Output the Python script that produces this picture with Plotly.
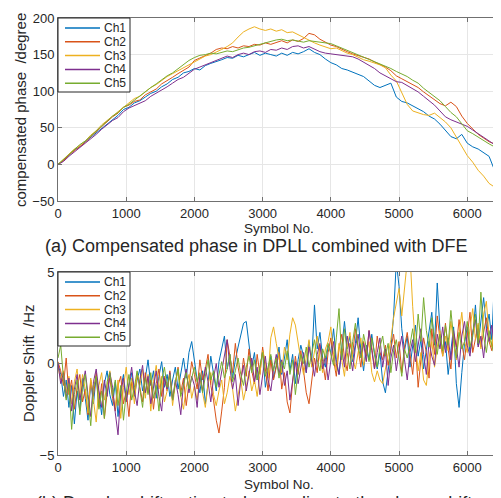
import plotly.graph_objects as go

# the page keeps the browser's 8px body margin, so the figure is drawn 8px smaller
# and every reference position is shifted by that offset
OFF = 8
W, H = 501 - OFF, 498 - OFF
FONT = "Liberation Sans, Arial, sans-serif"

channels = ["Ch1", "Ch2", "Ch3", "Ch4", "Ch5"]
colors = ["#0072BD", "#D95319", "#EDB120", "#7E2F8E", "#77AC30"]

# (a) compensated phase [degree], one value every 80 symbols
phase_x = list(range(0, 6481, 80))
phase_ch1 = [0, 6, 12, 20, 24, 31, 37, 43, 50, 55,
             62, 67, 75, 78, 84, 87, 92, 97, 100, 106,
             110, 116, 119, 125, 127, 131, 129, 135, 138, 140,
             143, 146, 145, 149, 147, 150, 153, 149, 152, 150,
             148, 152, 149, 153, 151, 154, 158, 153, 150, 144,
             139, 136, 131, 129, 126, 122, 120, 114, 108, 105,
             108, 111, 92, 86, 84, 80, 75, 72, 66, 62,
             55, 46, 38, 35, 41, 29, 24, 21, 16, 11,
             -8, -18]
phase_ch2 = [0, 5, 13, 19, 25, 30, 38, 45, 52, 58,
             65, 70, 78, 81, 86, 88, 95, 99, 103, 110,
             114, 119, 124, 129, 133, 142, 145, 149, 152, 157,
             159, 158, 161, 159, 162, 161, 164, 163, 166, 164,
             167, 169, 166, 170, 168, 172, 179, 177, 171, 167,
             163, 161, 157, 154, 151, 149, 146, 144, 140, 137,
             133, 128, 121, 117, 113, 108, 105, 99, 94, 89,
             83, 80, 85, 79, 66, 56, 48, 41, 36, 31,
             28, 24]
phase_ch3 = [0, 7, 13, 21, 26, 32, 40, 46, 54, 60,
             67, 73, 79, 85, 90, 93, 99, 105, 109, 115,
             120, 124, 128, 133, 137, 141, 144, 148, 150, 153,
             157, 161, 166, 174, 181, 185, 188, 185, 183, 185,
             182, 184, 180, 181, 177, 174, 169, 166, 163, 161,
             158, 159, 155, 152, 150, 146, 143, 141, 139, 136,
             132, 122, 114, 98, 82, 73, 70, 68, 67, 70,
             64, 58, 50, 37, 24, 12, 3, -8, -16, -26,
             -31, -35]
phase_ch4 = [0, 4, 11, 17, 23, 28, 35, 41, 48, 54,
             60, 64, 72, 77, 80, 84, 87, 93, 97, 102,
             106, 111, 116, 119, 125, 130, 133, 136, 139, 141,
             144, 148, 146, 150, 152, 150, 154, 155, 153, 157,
             156, 159, 157, 161, 162, 159, 161, 157, 154, 152,
             151, 150, 149, 147, 147, 144, 140, 136, 131, 125,
             121, 116, 113, 112, 108, 104, 99, 93, 87, 81,
             73, 65, 61, 58, 55, 52, 47, 42, 38, 32,
             27, 21]
phase_ch5 = [0, 7, 14, 20, 27, 32, 39, 46, 53, 59,
             66, 71, 78, 82, 88, 94, 99, 105, 110, 116,
             121, 125, 131, 136, 142, 146, 149, 150, 152, 151,
             153, 155, 154, 157, 159, 160, 162, 165, 166, 168,
             170, 171, 169, 170, 168, 167, 169, 168, 167, 166,
             165, 162, 159, 156, 152, 149, 146, 143, 140, 137,
             135, 131, 127, 124, 120, 115, 111, 104, 98, 93,
             87, 79, 71, 65, 56, 46, 42, 37, 32, 28,
             24, 17]

# (b) Doppler shift [Hz], one value every 40 symbols
dop_x = list(range(0, 6481, 40))
dop_ch1 = [0.0, -0.6, -1.8, -0.9, -2.4, -1.2, -3.3, -1.5, -2.6, -0.8,
           -1.9, -3.1, -1.0, -2.2, -0.7, -1.6, -2.8, -1.1, -0.4, -1.7,
           -2.3, -1.0, -2.9, -1.4, -0.6, -2.0, -1.2, -0.5, -1.8, -0.9,
           -0.3, -1.5, -0.8, 0.2, -1.2, -0.4, -1.9, -0.7, 0.1, -1.3,
           -0.6, -1.8, -0.9, -0.2, -1.4, -0.5, 0.3, -0.8, 0.6, 1.2,
           0.2, -0.9, -1.6, -0.4, -2.2, -1.1, 0.4, -0.7, -1.5, 0.1,
           0.8, 1.5, -0.3, 0.5, -0.8, 0.2, 0.9, 1.6, 2.2, 2.3,
           1.1, -0.2, 0.6, -0.9, -0.3, 0.7, -1.3, -0.5, 0.4, -0.8,
           -0.1, 0.9, -0.6, 0.3, 1.3, -0.4, 0.5, -1.1, 0.2, 1.0,
           0.4, -0.5, 1.2, 0.1, 3.2, 0.8, 1.7, 0.3, -0.2, 1.0,
           0.6, 1.9, 0.2, -0.6, 0.9, 2.3, 0.8, 1.5, 0.1, 1.1,
           2.5, 0.7, -0.4, 1.0, 0.2, 1.6, 0.5, -0.3, 0.6, -1.0,
           -1.6, -0.5, 0.8, 2.6, 5.6, 4.2, 1.9, 0.7, 1.5, -0.2,
           0.9, 2.1, 0.4, 1.3, -0.3, 0.8, 1.7, 2.8, 1.0, 4.4,
           1.8, 0.5, 1.2, -0.6, 0.7, 2.0, -1.1, -2.4, -0.5, 1.1,
           2.0, 0.6, 1.5, 3.2, 1.0, 2.4, 3.6, 1.9, 2.7, 1.3,
           4.7, 2.6, 1.4]
dop_ch2 = [0.1, -0.4, -1.2, 0.3, -1.7, -0.9, -2.5, -1.3, -0.6, -2.1,
           -1.4, -2.8, -0.9, -1.8, -0.5, -2.4, -1.1, -3.0, -1.6, -0.8,
           -1.9, -2.6, -1.2, -0.7, -2.2, -1.5, -2.9, -1.0, -1.7, -0.6,
           -1.3, -2.1, -0.5, -1.6, -0.9, -2.5, -1.1, -0.3, -1.8, -0.7,
           -1.5, -0.4, -2.0, -1.2, -0.2, -1.6, -0.8, -2.3, -1.0, 0.1,
           -0.6, -1.4, 0.2, -0.9, -0.3, 0.5, -1.2, -2.0, -3.1, -3.8,
           -2.6, -1.3, 1.3, 0.4, -0.5, 1.1, -0.2, -1.0, 0.3, -0.7,
           0.8, -0.4, -1.1, 0.5, -0.6, 0.9, -0.3, -1.5, 0.2, -0.9,
           -0.2, 0.6, -1.4, -0.5, -2.1, -2.7, -1.0, 0.4, -0.6, 0.7,
           -0.4, -1.6, -2.2, -0.8, 0.3, -0.5, 1.0, 0.1, -0.9, 0.6,
           1.4, 0.2, -0.7, 0.8, 1.6, 0.3, -0.4, 1.1, 0.5, 1.9,
           0.7, -0.2, 1.2, 0.4, 1.8, 0.9, -0.3, 1.5, 0.6, 0.2,
           1.0, -0.1, 0.8, 1.6, 0.3, 1.2, -0.5, 0.9, 1.7, 0.4,
           -0.6, 1.1, -1.3, 0.2, 1.4, 0.6, -0.8, 1.9, 0.5, 2.6,
           1.3, 0.4, 2.2, 0.8, -0.3, 1.6, 0.9, 2.4, 1.1, 0.2,
           1.7, 2.8, 0.6, 1.4, 2.1, 0.9, 1.8, 2.5, 1.2, 0.7,
           1.9, 1.1, 1.6]
dop_ch3 = [-0.2, -0.9, -0.4, -1.6, -0.7, -2.2, -1.0, -0.3, -1.8, -0.6,
           -1.4, -2.7, -0.8, -1.9, -3.2, -1.2, -0.5, -2.0, -1.1, -0.4,
           -1.6, -2.4, -0.9, -3.0, -1.3, -0.2, -1.7, -0.8, -2.2, -0.5,
           -1.2, -0.3, -1.9, -0.6, -2.6, -1.0, -0.1, -1.4, -0.7, -2.1,
           -1.5, -0.6, -2.3, -1.1, -0.4, -1.8, -2.5, -1.3, -0.6, -1.9,
           -1.2, -2.0, -0.8, -1.6, -2.4, -1.1, -0.5, -1.7, -2.3, -1.5,
           -0.9, -2.2, -1.6, -0.7, -1.4, -2.6, -1.8, -0.9, -2.0, -1.3,
           -0.4, -1.5, -0.9, -1.8, -0.6, 0.7, 0.1, -0.8, 1.4, 2.0,
           1.1, 0.3, -0.5, 0.9, 0.2, 1.6, 2.5, 2.1, 1.0, 0.2,
           -0.6, 0.4, 1.3, -0.2, 0.7, 1.5, 0.3, -0.5, 0.8, 1.2,
           2.0, 0.5, -0.4, 1.1, 0.2, -0.7, 0.9, 1.7, 0.3, -0.3,
           0.6, 1.4, -0.1, 0.5, 1.2, -0.5, -1.0, -0.4, -0.9, -1.1,
           -0.3, 0.4, 1.3, 2.5, 3.4, 4.1, 2.6, 3.9, 5.6, 6.0,
           3.1, 1.0, -0.4, 0.6, -0.9, -1.2, 0.3, 1.2, -0.2, 0.9,
           1.8, 0.4, 1.5, 0.7, 2.3, 1.1, 0.2, 1.6, 2.8, 1.2,
           0.6, 1.9, 3.0, 1.3, 2.2, 0.8, 2.7, 3.4, 1.5, 0.9,
           2.4, 1.0, 1.8]
dop_ch4 = [0.0, -1.1, -0.5, -1.9, -0.8, -2.6, -1.4, -0.6, -2.0, -1.2,
           -0.4, -1.7, -2.9, -1.0, -0.3, -1.5, -2.4, -0.9, -1.8, -0.5,
           -1.3, -2.7, -3.9, -1.6, -0.8, -2.1, -1.0, -0.2, -1.5, -2.3,
           -0.9, -0.1, -1.6, -0.7, -2.2, -1.3, -0.4, -1.8, -2.6, -0.8,
           -1.4, -0.5, -2.0, -0.9, -1.7, -2.8, -1.1, -0.3, -1.6, -0.7,
           -1.2, -2.4, -0.6, -1.5, -0.2, -1.0, -2.1, -0.8, 0.0, -1.3,
           -0.4, 0.6, 1.3, -0.2, -1.4, -0.6, -2.3, -0.9, -0.1, -1.5,
           -0.7, 0.3, -1.0, -0.2, -1.7, -0.5, 0.4, -0.9, -1.5, -0.3,
           0.5, -0.6, 0.2, -1.2, -0.4, -2.0, -0.8, 0.1, -1.1, -0.2,
           0.6, -0.5, 0.9, 0.2, -0.7, 0.5, 1.1, -0.3, 0.4, -0.9,
           0.3, 1.2, 0.0, -0.6, 0.8, -0.2, 1.5, 0.5, -0.4, 0.9,
           1.6, 0.4, 1.1, 0.1, 1.8, 0.7, -0.3, 0.6, 1.4, -0.2,
           0.8, -1.2, 0.3, 1.0, -0.4, 0.7, 1.5, 0.2, -0.9, 0.6,
           1.3, 0.1, 0.9, 1.9, 0.5, -0.6, 1.2, 0.4, -0.1, 1.6,
           0.8, 2.0, 0.6, 1.4, 0.2, 1.8, 0.9, -0.2, 1.5, 2.3,
           1.0, 0.4, 1.7, 2.4, 0.9, 1.5, 0.3, 1.9, 1.2, 2.1,
           0.8, 1.5, -1.1]
dop_ch5 = [0.3, 1.0, -0.8, -2.0, -1.1, -3.6, -1.7, -0.9, -2.8, -1.4,
           -0.6, -2.2, -3.4, -1.3, -0.7, -2.5, -1.5, -3.0, -1.0, -0.5,
           -1.8, -0.9, -2.3, -1.2, -3.1, -1.6, -0.6, -2.0, -1.3, -0.4,
           -1.5, -2.4, -0.8, -1.7, -0.5, -1.9, -1.2, -2.6, -0.9, -0.2,
           -1.3, -0.6, -2.0, -1.0, -0.3, -1.8, -1.2, -0.5, -1.4, -0.8,
           -0.2, -1.0, -0.5, -1.6, -0.7, 0.2, -0.9, -0.4, -1.3, -0.6,
           0.1, -0.8, -0.3, 0.5, -1.0, -0.4, 0.3, -0.6, -1.2, -0.2,
           0.4, -0.5, 0.2, -0.9, -0.1, 0.6, -0.7, -0.2, 0.5, -0.4,
           0.3, -0.8, 0.1, -0.3, 0.7, -0.6, 0.2, -1.7, -0.4, 0.5,
           0.0, 0.9, -0.2, 0.6, 1.3, 0.2, -0.4, 0.8, 0.3, 1.1,
           0.5, -0.1, 1.4, 3.0, 0.2, 1.9, 0.6, -0.3, 1.2, 2.2,
           0.9, 0.3, 1.6, 0.8, 0.1, 1.4, 0.6, -0.2, 0.9, 1.5,
           0.4, 1.1, -0.5, 0.7, 1.3, 0.2, -0.7, 0.8, 0.3, 1.0,
           1.9, 0.6, 2.7, 1.2, 3.6, 1.8, 0.9, 2.5, 1.3, 0.5,
           1.6, 0.7, 2.1, 1.0, 2.9, 1.4, 0.3, 1.7, 0.8, 1.2,
           2.3, 0.9, 1.6, 2.7, 1.1, 3.9, 1.5, 0.6, 1.8, 1.0,
           0.4, 1.6, 0.9]

phase_series = [phase_ch1, phase_ch2, phase_ch3, phase_ch4, phase_ch5]
dop_series = [dop_ch1, dop_ch2, dop_ch3, dop_ch4, dop_ch5]


def px(x):
    # reference pixel x -> paper fraction
    return (x - OFF) / W


def py(y):
    # reference pixel y -> paper fraction
    return 1 - (y - OFF) / H


fig = go.Figure()
for name, col, ys in zip(channels, colors, phase_series):
    fig.add_trace(go.Scatter(x=phase_x, y=ys, mode="lines", name=name,
                             line=dict(color=col, width=1),
                             xaxis="x", yaxis="y", showlegend=False))
for name, col, ys in zip(channels, colors, dop_series):
    fig.add_trace(go.Scatter(x=dop_x, y=ys, mode="lines", name=name,
                             line=dict(color=col, width=1),
                             xaxis="x2", yaxis="y2", showlegend=False))

axis_common = dict(showline=True, mirror="ticks", linecolor="#707070", linewidth=1,
                   ticks="inside", ticklen=4, tickcolor="#707070", automargin=False,
                   showgrid=True, gridcolor="#e6e6e6", gridwidth=1, zeroline=False,
                   tickfont=dict(size=13, color="#262626", family=FONT))
xdom = [px(58), px(500)]

fig.update_layout(
    width=W, height=H,
    margin=dict(l=0, r=0, t=0, b=0, pad=0, autoexpand=False),
    paper_bgcolor="white", plot_bgcolor="white",
    font=dict(family=FONT, color="#262626"),
    xaxis=dict(domain=xdom, range=[0, 6480], tick0=0, dtick=1000, anchor="y", **axis_common),
    yaxis=dict(domain=[py(201), py(18)], range=[-50, 200], dtick=50, anchor="x", **axis_common),
    xaxis2=dict(domain=xdom, range=[0, 6480], tick0=0, dtick=1000, anchor="y2", **axis_common),
    yaxis2=dict(domain=[py(455), py(272)], range=[-5, 5], dtick=5, anchor="x2", **axis_common),
)

ann = []
shapes = []

# axis titles and captions
ann.append(dict(text="compensated phase  /degree", x=px(20), y=py(110), textangle=-90,
                font=dict(size=15)))
ann.append(dict(text="Doppler Shift  /Hz", x=px(28), y=py(363), textangle=-90,
                font=dict(size=15)))
ann.append(dict(text="Symbol No.", x=px(279), y=py(228), font=dict(size=13.5)))
ann.append(dict(text="Symbol No.", x=px(279), y=py(484.5), font=dict(size=13.5)))
ann.append(dict(text="(a) Compensated phase in DPLL combined with DFE", x=px(256), y=py(246.5),
                font=dict(size=18)))
# caption (b) sits at the very bottom and is cut by the figure edge, as in the reference
ann.append(dict(text="(b) Doppler shift estimated according to the phase shift", x=px(34),
                y=py(503), xanchor="left", font=dict(size=18)))

# legends (one box per panel)
for top in (18, 272):
    shapes.append(dict(type="rect", xref="paper", yref="paper", layer="above",
                       x0=px(58), x1=px(130), y0=py(top + 74), y1=py(top),
                       fillcolor="white", line=dict(color="#262626", width=1)))
    for i, (name, col) in enumerate(zip(channels, colors)):
        yy = top + 10 + 13.8 * i
        shapes.append(dict(type="line", xref="paper", yref="paper", layer="above",
                           x0=px(65), x1=px(100), y0=py(yy), y1=py(yy),
                           line=dict(color=col, width=1.5)))
        ann.append(dict(text=name, x=px(102), y=py(yy), xanchor="left",
                        font=dict(size=12)))

for a in ann:
    a.setdefault("xref", "paper")
    a.setdefault("yref", "paper")
    a.setdefault("showarrow", False)
    a.setdefault("xanchor", "center")
    a.setdefault("yanchor", "middle")

fig.update_layout(annotations=ann, shapes=shapes)
fig.write_html("out.html")
